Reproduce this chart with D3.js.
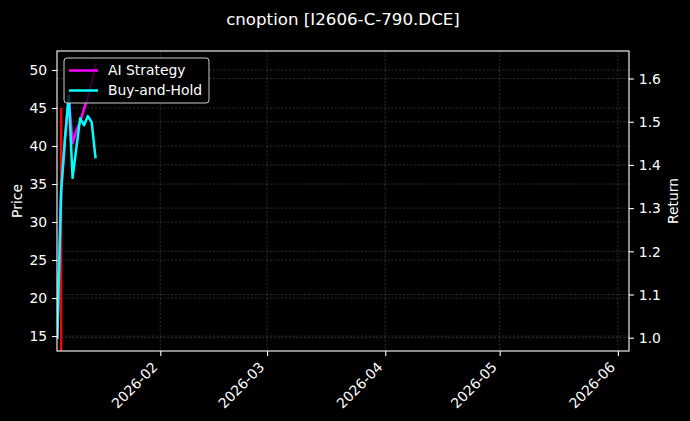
<!DOCTYPE html>
<html><head><meta charset="utf-8">
<script src="https://cdn.jsdelivr.net/npm/d3@7"></script>
<style>
body{margin:0;background:#000;}
svg{display:block;font-family:"DejaVu Sans",sans-serif;}
</style>
</head><body>
<svg id="chart" width="690" height="421"></svg>
<script>
// ---- data ----
const titleText = "cnoption [I2606-C-790.DCE]";
const dates = ["2026-01-05","2026-01-06","2026-01-07","2026-01-08","2026-01-09","2026-01-10",
               "2026-01-11","2026-01-12","2026-01-13","2026-01-14","2026-01-15"];
const aiStrategy = [1.00, 1.34, 1.46, 1.56, 1.45, 1.48, 1.50, 1.53, 1.555, 1.59, 1.632];
const buyAndHold = [1.00, 1.34, 1.46, 1.56, 1.37, 1.44, 1.508, 1.492, 1.513, 1.499, 1.418];
const priceDates = ["2026-01-06T00:00","2026-01-06T00:00"];
const prices = [10.0, 45.0];
const priceTicks = [15, 20, 25, 30, 35, 40, 45, 50];
const returnTicks = [1.0, 1.1, 1.2, 1.3, 1.4, 1.5, 1.6];
const monthTicks = ["2026-02","2026-03","2026-04","2026-05","2026-06"];
const xDomain = ["2026-01-04T22:00","2026-06-03T22:00"];
const priceDomain = [13.03, 52.5];
const returnDomain = [0.9692, 1.6637];
const seriesNames = ["AI Strategy", "Buy-and-Hold"];

// ---- layout ----
const W = 690, H = 421;
const L = 57, R = 629, T = 51, B = 351;
const parseDay = d3.utcParse("%Y-%m-%d");
const parseTime = d3.utcParse("%Y-%m-%dT%H:%M");
const parseMonth = d3.utcParse("%Y-%m");

const x = d3.scaleUtc().domain(xDomain.map(parseTime)).range([L, R]);
const yP = d3.scaleLinear().domain(priceDomain).range([B, T]);
const yR = d3.scaleLinear().domain(returnDomain).range([B, T]);

const svg = d3.select("#chart");
svg.append("rect").attr("width", W).attr("height", H).attr("fill", "#000");

svg.append("defs").append("clipPath").attr("id", "clip")
  .append("rect").attr("x", L).attr("y", T).attr("width", R - L).attr("height", B - T);

const gridColor = "#4a4a4a";
const gridW = 0.6, gridDash = "2.2,1.6";
const grid = svg.append("g");
grid.selectAll(".vg").data(monthTicks.map(parseMonth)).join("line")
  .attr("x1", d => x(d)).attr("x2", d => x(d)).attr("y1", T).attr("y2", B)
  .attr("stroke", gridColor).attr("stroke-width", gridW).attr("stroke-dasharray", gridDash);
grid.selectAll(".pg").data(priceTicks).join("line")
  .attr("x1", L).attr("x2", R).attr("y1", d => yP(d)).attr("y2", d => yP(d))
  .attr("stroke", gridColor).attr("stroke-width", gridW).attr("stroke-dasharray", gridDash);

// price line
const priceData = priceDates.map((d, i) => ({d: parseTime(d), v: prices[i]}));
svg.append("path").datum(priceData)
  .attr("clip-path", "url(#clip)")
  .attr("fill", "none").attr("stroke", "#ff0000").attr("stroke-width", 2.4)
  .attr("d", d3.line().x(p => x(p.d)).y(p => yP(p.v)));

// return grid
svg.append("g").selectAll("line").data(returnTicks).join("line")
  .attr("x1", L).attr("x2", R).attr("y1", d => yR(d)).attr("y2", d => yR(d))
  .attr("stroke", gridColor).attr("stroke-width", gridW).attr("stroke-dasharray", gridDash);

// return lines
const retLine = d3.line().x(p => x(p.d)).y(p => yR(p.v));
const aiData = dates.map((d, i) => ({d: parseDay(d), v: aiStrategy[i]}));
const bhData = dates.map((d, i) => ({d: parseDay(d), v: buyAndHold[i]}));
const colors = ["#ff00ff", "#00ffff"];
[aiData, bhData].forEach((ds, i) => {
  svg.append("path").datum(ds).attr("clip-path", "url(#clip)")
    .attr("fill", "none").attr("stroke", colors[i]).attr("stroke-width", 2.5)
    .attr("stroke-linejoin", "round").attr("stroke-linecap", "square")
    .attr("d", retLine);
});

// spines
svg.append("rect").attr("x", L).attr("y", T).attr("width", R - L).attr("height", B - T)
  .attr("fill", "none").attr("stroke", "#fff").attr("stroke-width", 1.1);

const fs = 13.9;
function styleAxis(g) {
  g.select(".domain").remove();
  g.selectAll(".tick line").attr("stroke", "#fff").attr("stroke-width", 1.1);
  g.selectAll(".tick text").attr("fill", "#fff").attr("font-size", fs)
    .attr("font-family", "DejaVu Sans, sans-serif");
}

const axL = svg.append("g").attr("transform", `translate(${L},0)`)
  .call(d3.axisLeft(yP).tickValues(priceTicks).tickSize(4.9).tickPadding(4.9).tickFormat(d3.format("d")));
styleAxis(axL);
axL.selectAll(".tick text").attr("dy", "0.34em");

const axR = svg.append("g").attr("transform", `translate(${R},0)`)
  .call(d3.axisRight(yR).tickValues(returnTicks).tickSize(4.9).tickPadding(4.9).tickFormat(d3.format(".1f")));
styleAxis(axR);
axR.selectAll(".tick text").attr("dy", "0.34em");

const axB = svg.append("g").attr("transform", `translate(0,${B})`)
  .call(d3.axisBottom(x).tickValues(monthTicks.map(parseMonth)).tickSize(4.9).tickFormat(d3.utcFormat("%Y-%m")));
styleAxis(axB);
axB.selectAll(".tick text")
  .attr("text-anchor", "end")
  .attr("y", 0).attr("dy", 0)
  .attr("transform", "translate(-2.3,17.1) rotate(-45)");

// axis labels
svg.append("text").attr("transform", `translate(21.5,${(T + B) / 2}) rotate(-90)`)
  .attr("text-anchor", "middle").attr("fill", "#fff").attr("font-size", fs).text("Price");
svg.append("text").attr("transform", `translate(677.5,${(T + B) / 2}) rotate(-90)`)
  .attr("text-anchor", "middle").attr("fill", "#fff").attr("font-size", fs).text("Return");

// title
svg.append("text").attr("x", 343).attr("y", 25).attr("text-anchor", "middle")
  .attr("fill", "#fff").attr("font-size", 16.67).text(titleText);

// legend
const lg = svg.append("g").attr("transform", "translate(64,58)");
lg.append("rect").attr("width", 145).attr("height", 45).attr("rx", 3)
  .attr("fill", "#000").attr("fill-opacity", 0.8).attr("stroke", "#ccc").attr("stroke-width", 1);
seriesNames.forEach((n, i) => {
  const yy = 12.5 + i * 20;
  lg.append("line").attr("x1", 5).attr("x2", 34).attr("y1", yy).attr("y2", yy)
    .attr("stroke", colors[i]).attr("stroke-width", 2.5);
  lg.append("text").attr("x", 44).attr("y", yy).attr("dy", "0.35em")
    .attr("fill", "#fff").attr("font-size", fs).text(n);
});
</script>
</body></html>
